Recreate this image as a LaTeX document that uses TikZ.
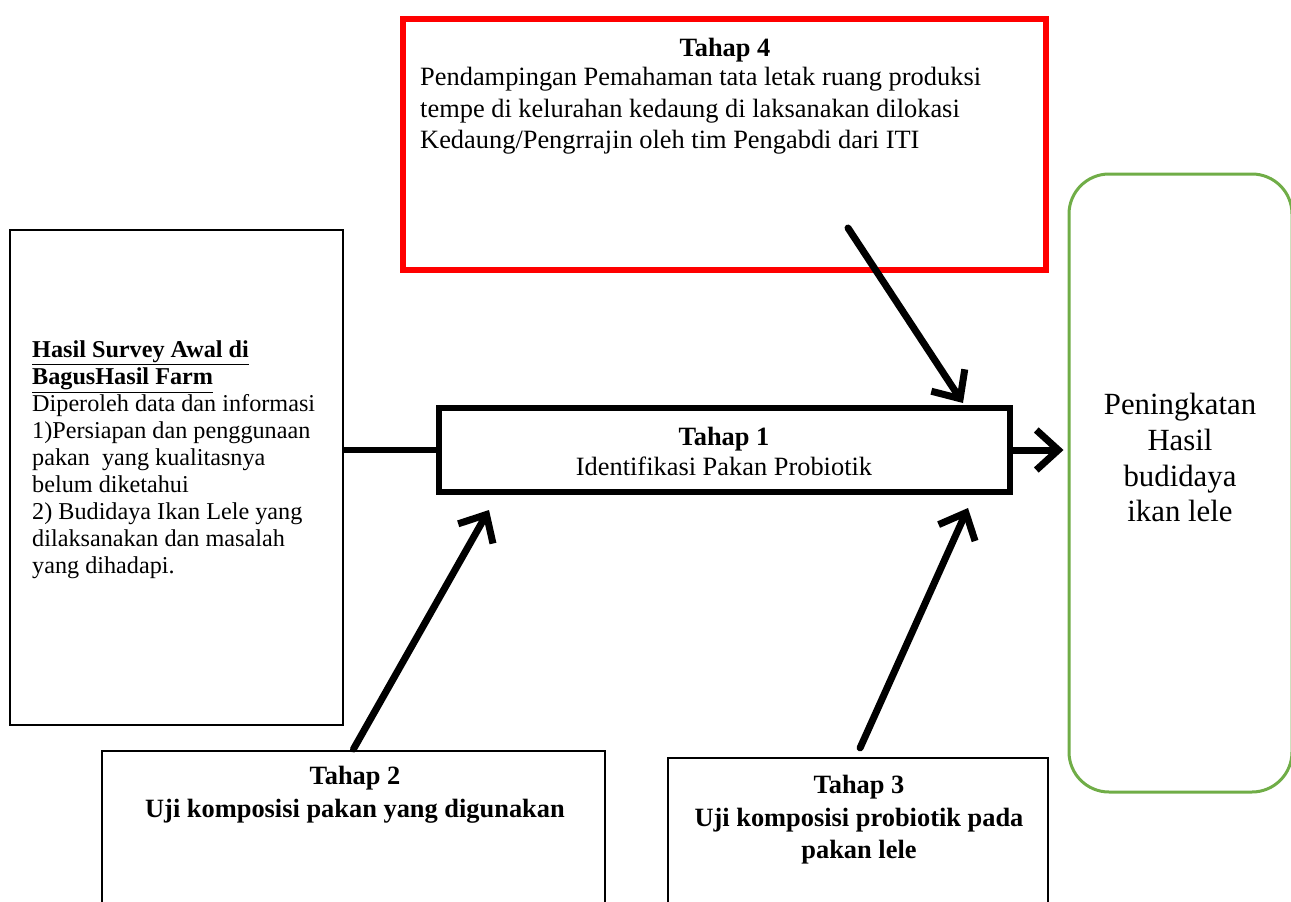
\documentclass[tikz,border=0pt]{standalone}
\usepackage{fontspec}
\setmainfont{Liberation Serif}
\usetikzlibrary{arrows.meta}
\definecolor{boxgreen}{HTML}{70AD47}
\begin{document}
\begin{tikzpicture}[x=1pt,y=-1pt,
  box/.style={draw=black, line width=2pt, inner sep=0pt, fill=white},
  txt/.style={inner sep=0pt, font=\fontsize{26.4}{30.4}\selectfont},
  conn/.style={line width=6pt},
  arr/.style={line width=7pt, line cap=round, -{Straight Barb[length=22pt,width=40pt,line width=7pt]}}]
\useasboundingbox (0,0) rectangle (1291,902);
% boxes
\node[box, draw=red, line width=6pt, minimum width=643pt, minimum height=251pt] (t4) at (724,144) {};
\node[box, minimum width=333pt, minimum height=495pt] (survey) at (176.5,477.5) {};
\node[box, line width=6pt, minimum width=571pt, minimum height=84pt] (t1) at (724,450) {};
\node[box, draw=boxgreen, line width=3pt, rounded corners=40pt, minimum width=223pt, minimum height=618pt] (green) at (1180.5,483) {};
\node[box, minimum width=503pt, minimum height=170pt] (t2) at (353.5,836) {};
\node[box, minimum width=380pt, minimum height=162pt] (t3) at (858,839) {};
% texts
\node[txt, anchor=north, font=\fontsize{26.4}{30.4}\selectfont\bfseries] (t4title) at (725,38) {Tahap 4};
\node[txt, anchor=north west, align=left, font=\fontsize{26.4}{31.5}\selectfont] (t4body) at (420,67) {Pendampingan Pemahaman tata letak ruang produksi\\tempe di kelurahan kedaung di laksanakan dilokasi\\Kedaung/Pengrrajin oleh tim Pengabdi dari ITI};
\node[txt, anchor=north west, align=left, font=\fontsize{24.2}{27}\selectfont] (surveytext) at (32,341) {\textbf{\underline{Hasil Survey Awal di}}\\\textbf{\underline{BagusHasil Farm}}\\Diperoleh data dan informasi\\1)Persiapan dan penggunaan\\pakan\ \ yang kualitasnya\\belum diketahui\\2) Budidaya Ikan Lele yang\\dilaksanakan dan masalah\\yang dihadapi.};
\node[txt, anchor=north, align=center, font=\fontsize{26.4}{29.5}\selectfont] (t1text) at (724,427) {\textbf{Tahap 1}\\Identifikasi Pakan Probiotik};
\node[txt, anchor=north, align=center, font=\fontsize{30.8}{35.8}\selectfont] (greentext) at (1180,393) {Peningkatan\\Hasil\\budidaya\\ikan lele};
\node[txt, anchor=north, align=center, font=\fontsize{26.4}{33}\selectfont\bfseries] (t2text) at (355,766) {Tahap 2\\Uji komposisi pakan yang digunakan};
\node[txt, anchor=north, align=center, font=\fontsize{26.4}{32.5}\selectfont\bfseries] (t3text) at (859,775) {Tahap 3\\Uji komposisi probiotik pada\\pakan lele};
% connector points
\coordinate (a2) at (489,510);
\coordinate (a3) at (968,508);
\coordinate (a4s) at (848,228);
\coordinate (a4) at (963,403);
% connectors
\draw[conn] (survey.east |- t1.west) -- (t1.west);
\draw[arr] (t1.east) -- ([xshift=-4pt]green.west |- t1.east);
\draw[arr] ([yshift=1pt]t2.north) -- (a2);
\draw[arr, shorten <=10pt] ([xshift=-2pt]t3.north) -- (a3);
\draw[arr] (a4s) -- (a4);
\end{tikzpicture}
\end{document}
